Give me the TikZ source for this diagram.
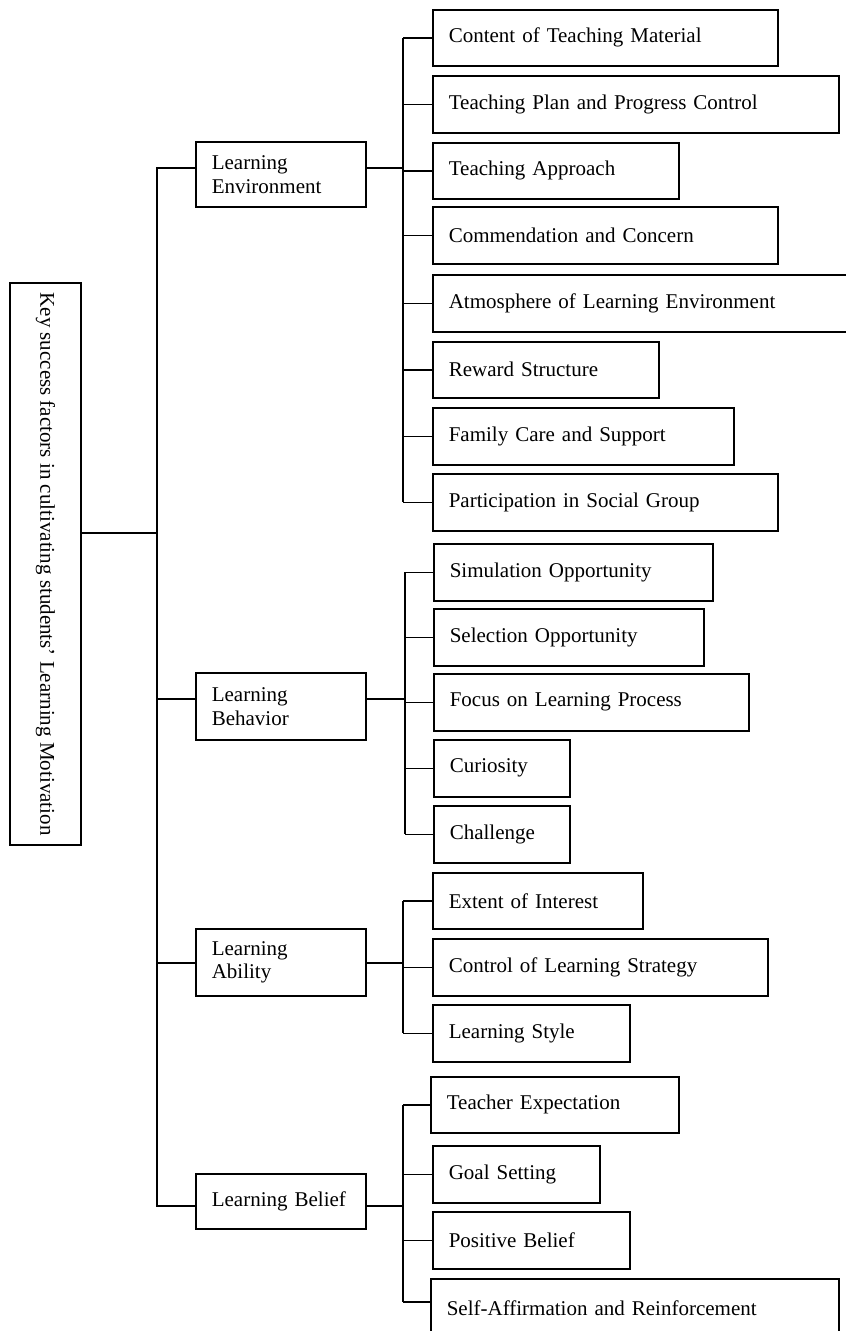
\documentclass[tikz,border=0pt]{standalone}
\usepackage{fontspec}
\setmainfont{Liberation Serif}
\begin{document}
\begin{tikzpicture}[x=1pt,y=-1pt,
  line width=1.6pt,
  every node/.style={font=\fontsize{21}{24}\selectfont},
  box/.style={draw, anchor=north west, inner xsep=16pt, inner ysep=0pt, align=left, line width=1.6pt},
  link/.style={line width=1.6pt}]
\useasboundingbox (0,0) rectangle (846,1331);
% box macro: name, x1, y1, x2, y2, text
\newcommand\bx[6]{\node[box, text width={#4-#2-32}, minimum height={#5-#3}] (#1) at (#2,#3) {#6};}

% root
\node[draw, rotate=-90, minimum width=562pt, minimum height=71pt, inner sep=0pt, line width=1.6pt] (root) at (45.5,564) {Key success factors in cultivating students’ Learning Motivation};

% level 1
\bx{env}{195}{141}{365}{206}{Learning\\Environment}
\bx{beh}{195}{672}{365}{739}{Learning\\Behavior}
\bx{abl}{195}{928}{365}{995}{Learning\\Ability}
\bx{bel}{195}{1173}{365}{1228}{Learning Belief}

% environment children
\bx{e1}{432}{9}{777}{65}{Content of Teaching Material}
\bx{e2}{432}{75}{838}{132}{Teaching Plan and Progress Control}
\bx{e3}{432}{142}{678}{198}{Teaching Approach}
\bx{e4}{432}{206}{777}{263}{Commendation and Concern}
\bx{e5}{432}{274}{852}{331}{Atmosphere of Learning Environment}
\bx{e6}{432}{341}{658}{397}{Reward Structure}
\bx{e7}{432}{407}{733}{464}{Family Care and Support}
\bx{e8}{432}{473}{777}{530}{Participation in Social Group}

% behavior children
\bx{b1}{433}{543}{712}{600}{Simulation Opportunity}
\bx{b2}{433}{608}{703}{665}{Selection Opportunity}
\bx{b3}{433}{673}{748}{730}{Focus on Learning Process}
\bx{b4}{433}{739}{569}{796}{Curiosity}
\bx{b5}{433}{805}{569}{862}{Challenge}

% ability children
\bx{a1}{432}{872}{642}{928}{Extent of Interest}
\bx{a2}{432}{938}{767}{995}{Control of Learning Strategy}
\bx{a3}{432}{1004}{629}{1061}{Learning Style}

% belief children
\bx{l1}{430}{1076}{678}{1132}{Teacher Expectation}
\bx{l2}{432}{1145}{599}{1202}{Goal Setting}
\bx{l3}{432}{1211}{629}{1268}{Positive Belief}
\bx{l4}{430}{1278}{838}{1336}{Self-Affirmation and Reinforcement}

% connector heights
\coordinate (yenv) at (0,168);
\coordinate (ybeh) at (0,699);
\coordinate (yabl) at (0,963);
\coordinate (ybel) at (0,1206);

% main bus
\coordinate (j0) at (157,533);
\draw[link] (root.north |- j0) -- (j0);
\draw[link] (env.west |- yenv) -- (j0 |- yenv) -- (j0 |- ybel) -- (bel.west |- ybel);
\draw[link] (beh.west |- ybeh) -- (j0 |- ybeh);
\draw[link] (abl.west |- yabl) -- (j0 |- yabl);

% environment bus
\coordinate (je) at (403,0);
\draw[link] (env.east |- yenv) -- (je |- yenv);
\draw[link] (e1.west -| je) -- (e8.west -| je);
\foreach \n in {e1,e2,e3,e4,e5,e6,e7,e8} \draw[link] (\n.west -| je) -- (\n.west);

% behavior bus
\coordinate (jb) at (405,0);
\draw[link] (beh.east |- ybeh) -- (jb |- ybeh);
\draw[link] (b1.west -| jb) -- (b5.west -| jb);
\foreach \n in {b1,b2,b3,b4,b5} \draw[link] (\n.west -| jb) -- (\n.west);

% ability bus
\coordinate (ja) at (403,0);
\draw[link] (abl.east |- yabl) -- (ja |- yabl);
\draw[link] (a1.west -| ja) -- (a3.west -| ja);
\foreach \n in {a1,a2,a3} \draw[link] (\n.west -| ja) -- (\n.west);

% belief bus
\coordinate (jl) at (403,0);
\coordinate (l4c) at (430,1302);
\draw[link] (bel.east |- ybel) -- (jl |- ybel);
\draw[link] (l1.west -| jl) -- (l4c -| jl);
\foreach \n in {l1,l2,l3} \draw[link] (\n.west -| jl) -- (\n.west);
\draw[link] (l4c -| jl) -- (l4c);
\end{tikzpicture}
\end{document}
